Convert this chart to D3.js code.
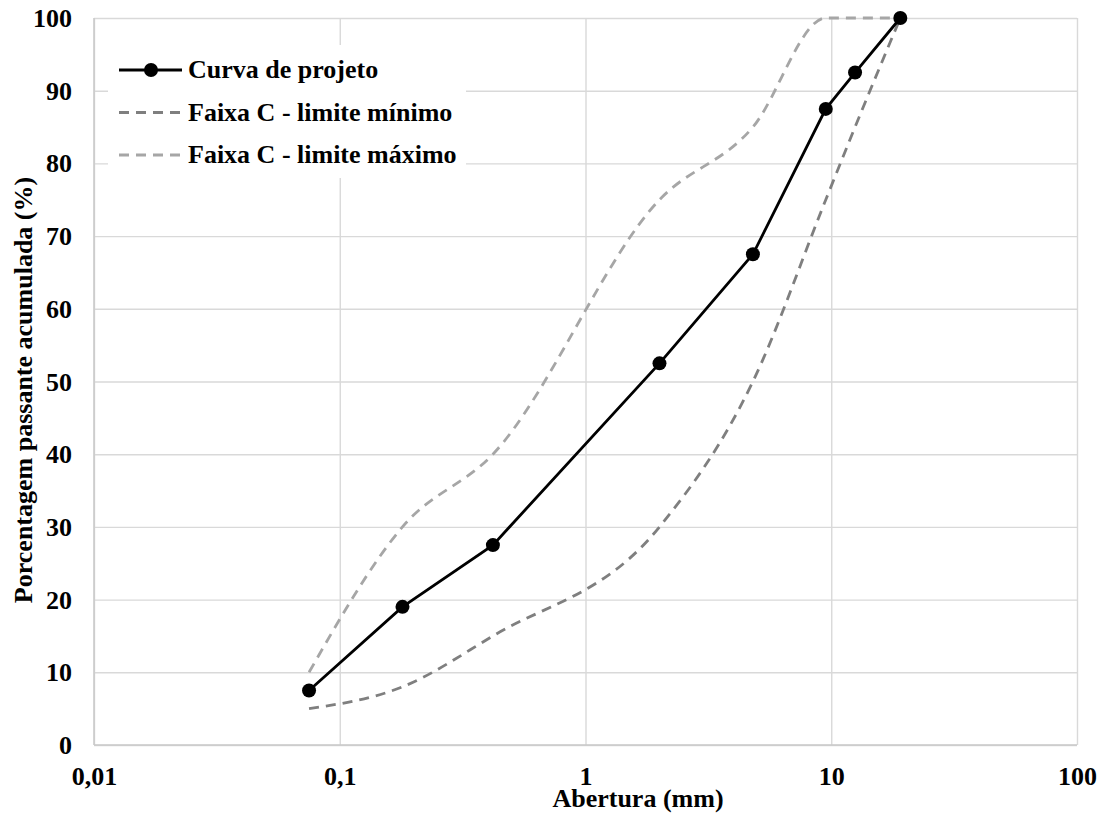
<!DOCTYPE html>
<html>
<head>
<meta charset="utf-8">
<script src="https://cdn.jsdelivr.net/npm/d3@7"></script>
<style>
  body { margin: 0; background: #fff; }
</style>
</head>
<body>
<div id="chart"></div>
<script>
// Peneiras (mm) e porcentagens passantes
const aberturas = [0.075, 0.18, 0.42, 2.0, 4.8, 9.5, 12.5, 19.1];
const curvaProjeto = [7.5, 19, 27.5, 52.5, 67.5, 87.5, 92.5, 100];
const limiteMinimo = [5, 8, 15, 30, 50, 75, 85, 100];
const limiteMaximo = [10, 30, 40, 75, 85, 100, 100, 100];

const xTicks = [0.01, 0.1, 1, 10, 100];
const xTickLabels = ['0,01', '0,1', '1', '10', '100'];
const yTicks = [0, 10, 20, 30, 40, 50, 60, 70, 80, 90, 100];

const seriesNames = ['Curva de projeto', 'Faixa C - limite mínimo', 'Faixa C - limite máximo'];

const FONT = "'Liberation Serif', Tinos, 'Times New Roman', 'DejaVu Serif', serif";

const width = 1099;
const height = 820;
const margin = { top: 18, right: 22, bottom: 75, left: 94 };
const innerWidth = width - margin.left - margin.right;
const innerHeight = height - margin.top - margin.bottom;

const svg = d3.select('#chart')
  .append('svg')
  .attr('width', width)
  .attr('height', height)
  .attr('font-family', FONT)
  .attr('font-weight', 'bold')
  .append('g')
  .attr('transform', `translate(${margin.left},${margin.top})`);

const x = d3.scaleLog().domain([0.01, 100]).range([0, innerWidth]);
const y = d3.scaleLinear().domain([0, 100]).range([innerHeight, 0]);

// grade
svg.append('g')
  .call(d3.axisLeft(y).tickValues(yTicks).tickSize(-innerWidth).tickFormat(''))
  .call(g => g.select('.domain').remove())
  .call(g => g.selectAll('line').attr('stroke', '#d9d9d9').attr('stroke-width', 1.4));

svg.append('g')
  .call(d3.axisBottom(x).tickValues(xTicks).tickSize(innerHeight).tickFormat(''))
  .call(g => g.select('.domain').remove())
  .call(g => g.selectAll('line').attr('stroke', '#d9d9d9').attr('stroke-width', 1.4));

// eixos
svg.append('line')
  .attr('x1', 0).attr('x2', innerWidth)
  .attr('y1', innerHeight).attr('y2', innerHeight)
  .attr('stroke', '#c8c8c8').attr('stroke-width', 1.5);
svg.append('line')
  .attr('x1', 0).attr('x2', 0)
  .attr('y1', 0).attr('y2', innerHeight)
  .attr('stroke', '#c8c8c8').attr('stroke-width', 1.5);

// rótulos dos eixos
svg.append('g')
  .attr('transform', `translate(0,${innerHeight})`)
  .call(d3.axisBottom(x).tickValues(xTicks).tickSize(0).tickPadding(0)
    .tickFormat((d, i) => xTickLabels[i]))
  .call(g => g.attr('font-family', FONT).attr('font-size', '26px'))
  .call(g => g.select('.domain').remove())
  .call(g => g.selectAll('text')
    .attr('y', 40).attr('dy', null)
    .attr('fill', '#000'));

svg.append('g')
  .call(d3.axisLeft(y).tickValues(yTicks).tickSize(0).tickPadding(0))
  .call(g => g.attr('font-family', FONT).attr('font-size', '26px'))
  .call(g => g.select('.domain').remove())
  .call(g => g.selectAll('text')
    .attr('x', -22).attr('dy', '8.5px')
    .attr('fill', '#000'));

const points = vals => aberturas.map((a, i) => ({ a, v: vals[i] }));

const smooth = d3.line()
  .x(d => x(d.a))
  .y(d => y(d.v))
  .curve(d3.curveMonotoneX);

const straight = d3.line()
  .x(d => x(d.a))
  .y(d => y(d.v));

svg.append('path')
  .datum(points(limiteMaximo))
  .attr('d', smooth)
  .attr('fill', 'none')
  .attr('stroke', '#a6a6a6')
  .attr('stroke-width', 2.8)
  .attr('stroke-dasharray', '10,7');

svg.append('path')
  .datum(points(limiteMinimo))
  .attr('d', smooth)
  .attr('fill', 'none')
  .attr('stroke', '#7f7f7f')
  .attr('stroke-width', 2.8)
  .attr('stroke-dasharray', '10,7');

svg.append('path')
  .datum(points(curvaProjeto))
  .attr('d', straight)
  .attr('fill', 'none')
  .attr('stroke', '#000')
  .attr('stroke-width', 2.8);

svg.selectAll('.dot')
  .data(points(curvaProjeto))
  .enter()
  .append('circle')
  .attr('class', 'dot')
  .attr('cx', d => x(d.a))
  .attr('cy', d => y(d.v))
  .attr('r', 7)
  .attr('fill', '#000');

// legenda
const legend = svg.append('g')
  .attr('transform', 'translate(14,27)');

legend.append('rect')
  .attr('x', 0).attr('y', 0)
  .attr('width', 358).attr('height', 133)
  .attr('fill', '#fff');

const legendStyles = [
  { stroke: '#000', dash: null, marker: true },
  { stroke: '#7f7f7f', dash: '10,7', marker: false },
  { stroke: '#a6a6a6', dash: '10,7', marker: false }
];

seriesNames.forEach((name, i) => {
  const row = legend.append('g').attr('transform', `translate(0,${25 + i * 42.5})`);
  const st = legendStyles[i];
  row.append('line')
    .attr('x1', 11).attr('x2', 74)
    .attr('y1', 0).attr('y2', 0)
    .attr('stroke', st.stroke)
    .attr('stroke-width', 2.8)
    .attr('stroke-dasharray', st.dash);
  if (st.marker) {
    row.append('circle').attr('cx', 43).attr('cy', 0).attr('r', 7).attr('fill', '#000');
  }
  row.append('text')
    .attr('x', 80)
    .attr('y', 8)
    .attr('font-size', '26px')
    .text(name);
});

// títulos
svg.append('text')
  .attr('x', 544)
  .attr('y', innerHeight + 62)
  .attr('text-anchor', 'middle')
  .attr('font-size', '26px')
  .text('Abertura (mm)');

svg.append('text')
  .attr('transform', 'rotate(-90)')
  .attr('x', -372)
  .attr('y', -62)
  .attr('text-anchor', 'middle')
  .attr('font-size', '26px')
  .text('Porcentagem passante acumulada (%)');
</script>
</body>
</html>
